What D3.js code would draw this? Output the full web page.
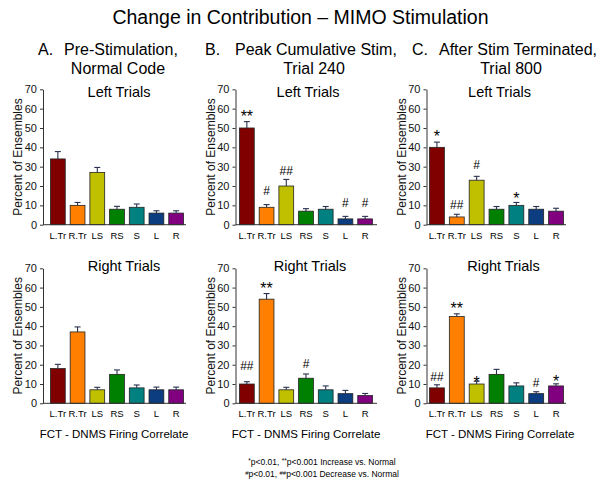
<!DOCTYPE html>
<html>
<head>
<meta charset="utf-8">
<script src="https://cdn.jsdelivr.net/npm/d3@7"></script>
<style>
  html, body { margin: 0; padding: 0; background: #fff; }
  svg { display: block; font-family: "Liberation Sans", Arial, sans-serif; }
</style>
</head>
<body>
<svg id="chart" width="601" height="484"></svg>
<script>
// ---------------- DATA ----------------
const categories = ["L.Tr", "R.Tr", "LS", "RS", "S", "L", "R"];
const yTicks = [0, 10, 20, 30, 40, 50, 60, 70];
const barColors = ["#800000", "#ff8000", "#c0c000", "#008000", "#008080", "#0b3d80", "#800080"];

// A. Pre-Stimulation
const aLeft      = [34, 10, 27, 8, 9, 6, 6];
const aLeftErr   = [3.8, 1.5, 2.6, 1.5, 1.7, 1.2, 1.2];
const aRight     = [18, 37, 7, 15, 8, 7, 7];
const aRightErr  = [2.2, 2.6, 1.3, 2.3, 1.5, 1.4, 1.4];
// B. Peak Cumulative Stim, Trial 240
const bLeft      = [50, 9, 20, 7, 8, 3, 3];
const bLeftErr   = [3.3, 1.4, 3.4, 1.3, 1.4, 1.3, 1.3];
const bRight     = [10, 54, 7, 13, 7, 5, 4];
const bRightErr  = [1.2, 2.9, 1.3, 2.2, 2.0, 1.7, 1.1];
// C. After Stim Terminated, Trial 800
const cLeft      = [40, 4, 23, 8, 10, 8, 7];
const cLeftErr   = [2.7, 1.4, 2.0, 1.4, 1.5, 1.4, 1.5];
const cRight     = [8, 45, 10, 15, 9, 5, 9];
const cRightErr  = [1.6, 1.4, 1.5, 2.6, 1.6, 1.0, 1.1];

// significance marks and the level (in %) of their baseline
const aLeftMarks  = ["", "", "", "", "", "", ""];
const aLeftMarkY  = [null, null, null, null, null, null, null];
const aRightMarks = ["", "", "", "", "", "", ""];
const aRightMarkY = [null, null, null, null, null, null, null];
const bLeftMarks  = ["**", "#", "##", "", "", "#", "#"];
const bLeftMarkY  = [53.2, 15.3, 25.7, null, null, 9.3, 9.3];
const bRightMarks = ["##", "**", "", "#", "", "", ""];
const bRightMarkY = [17.3, 56.6, null, 18.1, null, null, null];
const cLeftMarks  = ["*", "##", "#", "", "*", "", ""];
const cLeftMarkY  = [42.8, 8.1, 28.6, null, 10.9, null, null];
const cRightMarks = ["##", "**", "*", "", "", "#", "*"];
const cRightMarkY = [11.4, 46.5, 8.1, null, null, 8.6, 8.5];

const mainTitle = "Change in Contribution \u2013 MIMO Stimulation";
const colLetters = ["A.", "B.", "C."];
const colTitle1 = ["Pre-Stimulation,", "Peak Cumulative Stim,", "After Stim Terminated,"];
const colTitle2 = ["Normal Code", "Trial 240", "Trial 800"];
const rowTitles = ["Left Trials", "Right Trials"];
const yLabel = "Percent of Ensembles";
const xLabel = "FCT - DNMS Firing Correlate";

// ---------------- LAYOUT ----------------
const svg = d3.select("#chart");
const cols = [
  { axisX: 43,    band: [48, 186],  end: 186, letterX: 38,  titleX: 64,  sub2X: 118, xLabX: 114, rowTitleDx: [2, 7] },
  { axisX: 235.5, band: [237, 375], end: 377, letterX: 205, titleX: 235, sub2X: 314, xLabX: 306, rowTitleDx: [2, 4] },
  { axisX: 426.5, band: [427, 566], end: 566, letterX: 412, titleX: 439, sub2X: 511, xLabX: 500, rowTitleDx: [3, 7] }
];
const rows = [
  { y: [224.7, 89.3], titleY: 96.5 },
  { y: [403.3, 268.3], titleY: 270.5 }
];
const panels = [
  [ {v: aLeft, e: aLeftErr, m: aLeftMarks, my: aLeftMarkY}, {v: aRight, e: aRightErr, m: aRightMarks, my: aRightMarkY} ],
  [ {v: bLeft, e: bLeftErr, m: bLeftMarks, my: bLeftMarkY}, {v: bRight, e: bRightErr, m: bRightMarks, my: bRightMarkY} ],
  [ {v: cLeft, e: cLeftErr, m: cLeftMarks, my: cLeftMarkY}, {v: cRight, e: cRightErr, m: cRightMarks, my: cRightMarkY} ]
];

// main title
svg.append("text").attr("x", 300.5).attr("y", 24).attr("text-anchor", "middle")
  .attr("font-size", 19.5).attr("fill", "#000").text(mainTitle);

cols.forEach((c, ci) => {
  svg.append("text").attr("x", c.letterX).attr("y", 54.5).attr("font-size", 16).text(colLetters[ci]);
  svg.append("text").attr("x", c.titleX).attr("y", 54.5).attr("font-size", 16).text(colTitle1[ci]);
  svg.append("text").attr("x", c.sub2X).attr("y", 74).attr("text-anchor", "middle").attr("font-size", 16).text(colTitle2[ci]);
  svg.append("text").attr("x", c.xLabX).attr("y", 437.5).attr("text-anchor", "middle").attr("font-size", 11.5).text(xLabel);

  rows.forEach((r, ri) => {
    const d = panels[ci][ri];
    const x = d3.scaleBand().domain(categories).range(c.band).paddingInner(0.25).paddingOuter(0.125);
    const y = d3.scaleLinear().domain([0, 70]).range(r.y);
    const g = svg.append("g");

    // y axis
    const yAxis = g.append("g").attr("transform", `translate(${c.axisX},0)`)
      .call(d3.axisLeft(y).tickValues(yTicks).tickSize(3).tickPadding(3).tickSizeOuter(0));
    yAxis.select(".domain").attr("stroke", "#333");
    yAxis.selectAll(".tick line").attr("stroke", "#333");
    yAxis.selectAll(".tick text").attr("font-size", 11).attr("fill", "#111")
      .attr("font-family", "Liberation Sans, Arial, sans-serif");

    // y label
    g.append("text")
      .attr("transform", `translate(${c.axisX - 21},${(r.y[0] + r.y[1]) / 2}) rotate(-90)`)
      .attr("text-anchor", "middle").attr("font-size", 12).attr("fill", "#111").text(yLabel);

    // bars
    g.selectAll("rect.bar").data(categories).enter().append("rect")
      .attr("x", k => x(k)).attr("width", x.bandwidth())
      .attr("y", (k, i) => y(d.v[i])).attr("height", (k, i) => y(0) - y(d.v[i]))
      .attr("fill", (k, i) => barColors[i]).attr("stroke", "#222").attr("stroke-width", 0.8);

    // error bars (upper only)
    const eb = g.selectAll("g.err").data(categories).enter().append("g")
      .attr("stroke", "#2a3150").attr("stroke-width", 1.1);
    eb.append("line")
      .attr("x1", k => x(k) + x.bandwidth() / 2).attr("x2", k => x(k) + x.bandwidth() / 2)
      .attr("y1", (k, i) => y(d.v[i])).attr("y2", (k, i) => y(d.v[i] + d.e[i]));
    eb.append("line")
      .attr("x1", k => x(k) + x.bandwidth() / 2 - 3).attr("x2", k => x(k) + x.bandwidth() / 2 + 3)
      .attr("y1", (k, i) => y(d.v[i] + d.e[i])).attr("y2", (k, i) => y(d.v[i] + d.e[i]));

    // x axis line
    g.append("line").attr("x1", c.axisX).attr("x2", c.end)
      .attr("y1", y(0)).attr("y2", y(0)).attr("stroke", "#333");

    // category labels
    g.selectAll("text.cat").data(categories).enter().append("text")
      .attr("x", k => x(k) + x.bandwidth() / 2).attr("y", y(0) + 14)
      .attr("text-anchor", "middle").attr("font-size", 9.5).text(k => k);

    // significance marks
    g.selectAll("text.mark").data(categories.filter((k, i) => d.m[i])).enter().append("text")
      .attr("x", k => x(k) + x.bandwidth() / 2)
      .attr("y", k => y(d.my[categories.indexOf(k)]))
      .attr("text-anchor", "middle")
      .attr("font-size", k => d.m[categories.indexOf(k)].startsWith("*") ? 16 : 12)
      .text(k => d.m[categories.indexOf(k)]);

    // row title
    g.append("text").attr("x", (c.band[0] + c.band[1]) / 2 + c.rowTitleDx[ri]).attr("y", r.titleY)
      .attr("text-anchor", "middle").attr("font-size", 14.5).text(rowTitles[ri]);
  });
});

// footnote
const fn = svg.append("g").attr("font-size", 8.5).attr("text-anchor", "middle");
const l1 = fn.append("text").attr("x", 322).attr("y", 464.5);
l1.append("tspan").attr("font-size", 6.5).attr("dy", -2).text("*");
l1.append("tspan").attr("dy", 2).text("p<0.01, ");
l1.append("tspan").attr("font-size", 6.5).attr("dy", -2).text("**");
l1.append("tspan").attr("dy", 2).text("p<0.001 Increase vs. Normal");
const l2 = fn.append("text").attr("x", 322).attr("y", 476.5);
l2.append("tspan").attr("font-size", 6).attr("dy", -2).text("#");
l2.append("tspan").attr("dy", 2).text("p<0.01, ");
l2.append("tspan").attr("font-size", 6).attr("dy", -2).text("##");
l2.append("tspan").attr("dy", 2).text("p<0.001 Decrease vs. Normal");
</script>
</body>
</html>
